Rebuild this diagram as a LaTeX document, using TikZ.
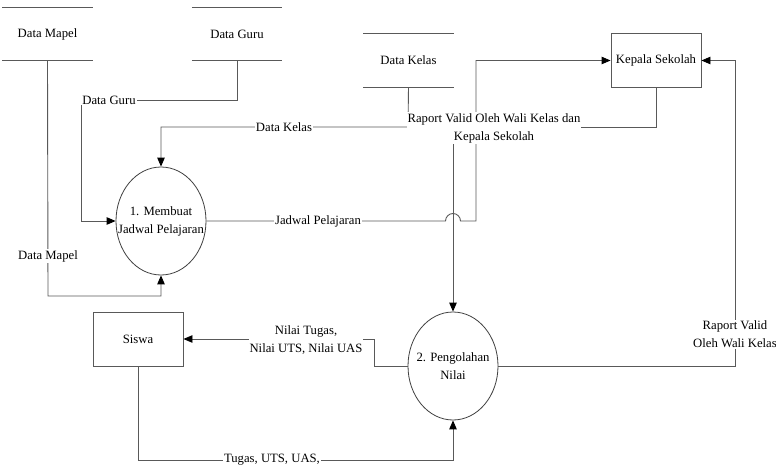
\documentclass[tikz,border=0pt]{standalone}
\usepackage{fontspec}
\setmainfont{Liberation Serif}
\usetikzlibrary{shapes.geometric,arrows.meta}
\begin{document}
\begin{tikzpicture}[x=1pt,y=-1pt,
  font=\fontsize{12.7}{18}\selectfont,
  line/.style={draw=black!65, line width=0.9pt},
  flow/.style={line, -{Triangle[length=9pt,width=7.5pt,color=black]}},
  lbl/.style={fill=white, inner sep=1pt, align=center},
  storebox/.style={minimum width=90pt, minimum height=53pt, inner sep=0pt},
  entity/.style={line, minimum width=90pt, minimum height=54pt, inner sep=0pt},
  proc/.style={ellipse, draw=black!75, line width=0.8pt, minimum width=90pt, minimum height=108pt, inner sep=0pt}
]
\useasboundingbox (0,0) rectangle (776,468);

% data stores
\node[storebox] (dm) at (47.5,34) {Data Mapel};
\node[storebox] (dg) at (237,34) {Data Guru};
\node[storebox] (dk) at (408.5,60.5) {Data Kelas};
\foreach \s in {dm,dg,dk}{
  \draw[line] (\s.north west) -- (\s.north east);
  \draw[line] (\s.south west) -- (\s.south east);
}

% entities
\node[entity] (ks) at (656,60.5) {Kepala Sekolah};
\node[entity] (sw) at (138,339) {Siswa};

% processes
\node[proc, label={[align=center]center:1. Membuat\\Jadwal Pelajaran}] (p1) at (161,221) {};
\node[proc, label={[align=center]center:2. Pengolahan\\Nilai}] (p2) at (453,366) {};

% flows
\draw[flow] (dk.south) -- (408,127) -| (p1.north);
\draw[flow] (ks.south) -- (656,127) -| (p2.north);
\draw[flow] (p1.east) -- (445.5,221) arc[start angle=180, end angle=0, radius=7.5pt] -- (476,221) |- (ks.west);
\draw[flow] (dg.south) |- (81,100) |- (p1.west);
\draw[flow] (dm.south) -- (48,296) -| (p1.south);
\draw[flow] (p2.west) -- (374,366) |- (sw.east);
\draw[flow] (sw.south) -- (138,460) -| (p2.south);
\draw[flow] (p2.east) -- (735,366) |- (ks.east);

% labels
\node[lbl] (lraport) at (494,128) {Raport Valid Oleh Wali Kelas dan\\Kepala Sekolah};
\node[lbl] (lkelas) at (284,127) {Data Kelas};
\node[lbl] (lguru) at (109,100) {Data Guru};
\node[lbl] (lmapel) at (48,256) {Data Mapel};
\node[lbl] (ljadwal) at (318,221) {Jadwal Pelajaran};
\node[lbl] (lnilai) at (306,340) {Nilai Tugas,\\Nilai UTS, Nilai UAS};
\node[lbl] (ltugas) at (272,460) {Tugas, UTS, UAS,};
\node[lbl] (lvalid) at (735,334) {Raport Valid\\Oleh Wali Kelas};
\end{tikzpicture}
\end{document}
